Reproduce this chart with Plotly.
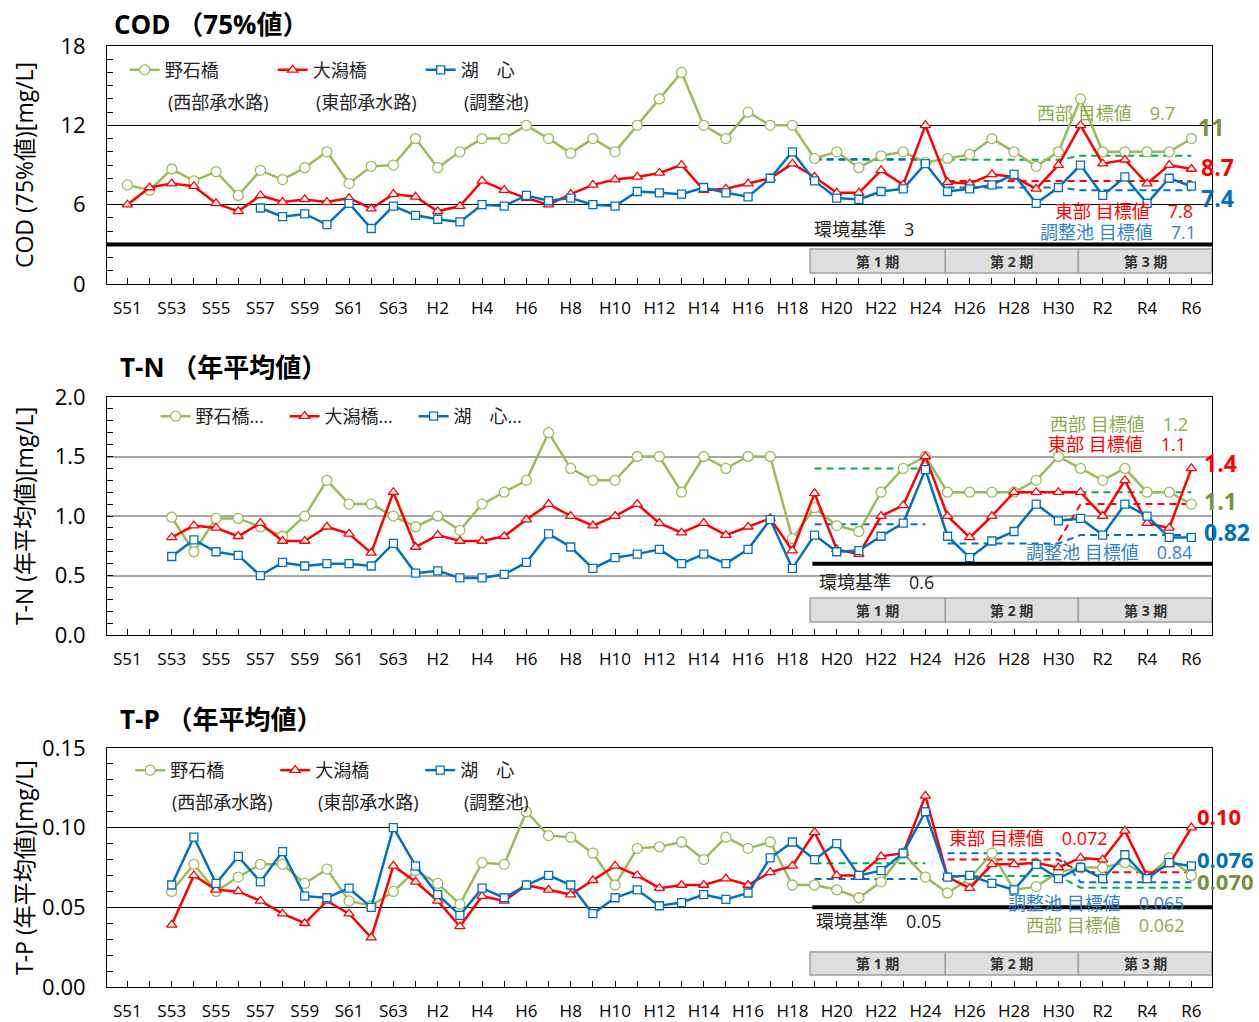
import plotly.graph_objects as go
from plotly.subplots import make_subplots

# ---------------- data ----------------
year_labels = (["S%d" % y for y in range(51, 64)] +
               ["H%d" % y for y in range(1, 31)] +
               ["R%d" % y for y in range(1, 7)])
x_idx = list(range(len(year_labels)))
tick_vals = x_idx[::2]
tick_text = year_labels[::2]

N = None
# COD (75%値)
cod_west = [7.5, 7.1, 8.7, 7.8, 8.5, 6.7, 8.6, 7.9, 8.8, 10, 7.6, 8.9, 9.0, 11, 8.8, 10, 11, 11, 12, 11,
            9.9, 11, 10, 12, 14, 16, 12, 11, 13, 12, 12, 9.5, 10, 8.8, 9.7, 10, 9.2, 9.5, 9.8, 11,
            10, 8.9, 10, 14, 10, 10, 10, 10, 11]
cod_east = [6.0, 7.3, 7.6, 7.4, 6.1, 5.5, 6.7, 6.2, 6.4, 6.2, 6.5, 5.7, 6.8, 6.6, 5.5, 5.9, 7.8, 7.1, 6.5, 6.0,
            6.8, 7.5, 7.9, 8.1, 8.4, 9.0, 7.1, 7.2, 7.6, 8.0, 9.1, 8.1, 6.9, 6.9, 8.6, 7.5, 12, 7.7, 7.6, 8.3,
            8.1, 7.2, 9.0, 12, 9.1, 9.4, 7.6, 9.0, 8.7]
cod_lake = [N, N, N, N, N, N, 5.75, 5.1, 5.3, 4.5, 6.1, 4.2, 5.9, 5.2, 4.9, 4.7, 6.0, 5.9, 6.7, 6.3,
            6.5, 6.0, 5.9, 7.0, 6.9, 6.8, 7.3, 6.9, 6.6, 8.0, 10, 7.8, 6.5, 6.4, 7.0, 7.2, 9.1, 7.0, 7.2, 7.5,
            8.3, 6.1, 7.3, 9.0, 6.7, 8.1, 6.1, 8.0, 7.4]
# T-N (年平均値)
tn_west = [N, N, 0.99, 0.70, 0.98, 0.98, 0.91, 0.83, 1.0, 1.30, 1.10, 1.10, 1.0, 0.91, 1.0, 0.88, 1.10, 1.20, 1.30, 1.70,
           1.40, 1.30, 1.30, 1.50, 1.50, 1.20, 1.50, 1.40, 1.50, 1.50, 0.81, 1.07, 0.92, 0.87, 1.2, 1.4, 1.5, 1.2, 1.2, 1.2,
           1.2, 1.3, 1.5, 1.4, 1.3, 1.4, 1.2, 1.2, 1.1]
tn_east = [N, N, 0.82, 0.92, 0.90, 0.83, 0.94, 0.79, 0.79, 0.91, 0.85, 0.69, 1.20, 0.74, 0.84, 0.79, 0.79, 0.83, 0.97, 1.10,
           1.0, 0.92, 1.0, 1.10, 0.94, 0.86, 0.94, 0.84, 0.91, 0.98, 0.71, 1.19, 0.72, 0.68, 1.0, 1.09, 1.5, 1.0, 0.82, 1.0,
           1.2, 1.2, 1.2, 1.2, 1.0, 1.3, 0.94, 0.90, 1.4]
tn_lake = [N, N, 0.66, 0.80, 0.70, 0.67, 0.50, 0.61, 0.58, 0.60, 0.60, 0.58, 0.77, 0.52, 0.54, 0.48, 0.48, 0.51, 0.61, 0.85,
           0.74, 0.56, 0.65, 0.68, 0.72, 0.60, 0.68, 0.60, 0.72, 0.97, 0.56, 0.84, 0.70, 0.71, 0.83, 0.94, 1.39, 0.83, 0.65, 0.79,
           0.87, 1.10, 0.96, 0.98, 0.84, 1.10, 1.0, 0.82, 0.82]
# T-P (年平均値)
tp_west = [N, N, 0.060, 0.077, 0.060, 0.069, 0.077, 0.077, 0.065, 0.074, 0.054, 0.051, 0.060, 0.073, 0.065, 0.052, 0.078, 0.077, 0.110, 0.095,
           0.094, 0.084, 0.064, 0.087, 0.088, 0.091, 0.080, 0.094, 0.087, 0.091, 0.064, 0.064, 0.061, 0.056, 0.066, 0.084, 0.069, 0.059, 0.068, 0.084,
           0.061, 0.063, 0.072, 0.075, 0.075, 0.078, 0.069, 0.081, 0.070]
tp_east = [N, N, 0.039, 0.070, 0.061, 0.060, 0.054, 0.046, 0.040, 0.054, 0.046, 0.031, 0.076, 0.066, 0.054, 0.038, 0.057, 0.054, 0.064, 0.061,
           0.058, 0.067, 0.076, 0.070, 0.062, 0.064, 0.064, 0.068, 0.064, 0.072, 0.076, 0.097, 0.070, 0.070, 0.082, 0.084, 0.120, 0.069, 0.062, 0.077,
           0.077, 0.078, 0.075, 0.081, 0.080, 0.098, 0.070, 0.077, 0.100]
tp_lake = [N, N, 0.064, 0.094, 0.065, 0.082, 0.066, 0.085, 0.057, 0.056, 0.062, 0.050, 0.100, 0.076, 0.058, 0.045, 0.062, 0.056, 0.064, 0.070,
           0.064, 0.046, 0.056, 0.061, 0.051, 0.053, 0.058, 0.055, 0.059, 0.081, 0.091, 0.080, 0.090, 0.070, 0.073, 0.084, 0.110, 0.069, 0.070, 0.065,
           0.061, 0.077, 0.068, 0.075, 0.068, 0.083, 0.068, 0.078, 0.076]

# target values per phase (第1期 H19-H24, 第2期 H25-H30, 第3期 R1-R6)
phase_ranges = [(31, 36), (37, 42), (43, 48)]
phase_names = ["第 1 期", "第 2 期", "第 3 期"]
cod_tgt = {"west": [9.45, 9.4, 9.7], "east": [N, 7.8, 7.8], "lake": [9.4, 7.3, 7.1]}
tn_tgt = {"west": [1.40, 1.2, 1.2], "east": [N, N, 1.1], "lake": [0.93, 0.77, 0.84]}
tp_tgt = {"west": [0.0776, 0.0697, 0.0623], "east": [N, 0.080, 0.072], "lake": [0.0678, 0.0839, 0.0657]}
tn_east_link_h30 = 0.79   # end point of the east target line at H30 (T-N)
env_std = [3, 0.6, 0.05]
env_start = [None, 31, 31]

# ---------------- style ----------------
GREEN = "#9BBB59"
GREEN_D = "#00B050"
GREEN_T = "#8EA94E"
GREEN_B = "#76923C"
RED = "#FF0000"
BLUE = "#0070C0"
BLUE_T = "#2F84D0"
FONT = "Open Sans, Noto Sans CJK JP, sans-serif"
XR = [-0.92, 48.93]
phase_edges = [30.8, 36.9, 42.9, 48.93]

fig = make_subplots(rows=3, cols=1)
doms = [(0.747, 1.0), (0.374, 0.627), (0.0, 0.254)]


def tgt_series(vals, phases):
    ys = [None] * len(x_idx)
    for v, ph in zip(vals, phases):
        if v is None:
            continue
        for i in range(ph[0], ph[1] + 1):
            ys[i] = v
    return ys


panels = [
    (cod_west, cod_east, cod_lake, cod_tgt),
    (tn_west, tn_east, tn_lake, tn_tgt),
    (tp_west, tp_east, tp_lake, tp_tgt),
]
legend_names = [["野石橋", "大潟橋", "湖　心"], ["野石橋...", "大潟橋...", "湖　心..."], ["野石橋", "大潟橋", "湖　心"]]
legend_ids = ["legend", "legend2", "legend3"]

for p, (w, e, l, tg) in enumerate(panels):
    row = p + 1
    # target dashed lines: phase 1 separate, phases 2-3 connected
    for key, col in (("west", GREEN_D), ("east", RED), ("lake", BLUE)):
        vals = tg[key]
        for grp in ([0], [1, 2]):
            ys = tgt_series([vals[g] for g in grp], [phase_ranges[g] for g in grp])
            if p == 1 and key == "east" and grp == [1, 2]:
                ys[phase_ranges[1][1]] = tn_east_link_h30
            if all(v is None for v in ys):
                continue
            fig.add_trace(go.Scatter(x=x_idx, y=ys, mode="lines", connectgaps=False,
                                     line=dict(color=col, width=2, dash="7px,5px"),
                                     showlegend=False, hoverinfo="skip"), row=row, col=1)
    names = legend_names[p]
    fig.add_trace(go.Scatter(x=x_idx, y=w, mode="lines+markers", name=names[0],
                             line=dict(color=GREEN, width=2.5),
                             marker=dict(symbol="circle", size=10, color="white", line=dict(color=GREEN, width=1.3)),
                             legend=legend_ids[p]), row=row, col=1)
    fig.add_trace(go.Scatter(x=x_idx, y=e, mode="lines+markers", name=names[1],
                             line=dict(color=RED, width=2.5),
                             marker=dict(symbol="triangle-up", size=9, color="white", line=dict(color=RED, width=1.3)),
                             legend=legend_ids[p]), row=row, col=1)
    fig.add_trace(go.Scatter(x=x_idx, y=l, mode="lines+markers", name=names[2],
                             line=dict(color=BLUE, width=2.5),
                             marker=dict(symbol="square", size=8, color="white", line=dict(color=BLUE, width=1.3)),
                             legend=legend_ids[p]), row=row, col=1)

# axes
yconf = [
    dict(range=[0, 18], tickvals=[0, 6, 12, 18], minor=dict(dtick=1, ticks="inside", ticklen=6, tickcolor="black"),
         gridcolor="black", gridwidth=1),
    dict(range=[0, 2.0], tickvals=[0, 0.5, 1.0, 1.5, 2.0], tickformat=".1f",
         minor=dict(dtick=0.1, ticks="inside", ticklen=6, tickcolor="black"), gridcolor="#A6A6A6", gridwidth=1.5),
    dict(range=[0, 0.15], tickvals=[0, 0.05, 0.10, 0.15], tickformat=".2f",
         minor=dict(dtick=0.01, ticks="inside", ticklen=6, tickcolor="black"), gridcolor="black", gridwidth=1),
]
for p in range(3):
    fig.update_xaxes(range=XR, tickmode="array", tickvals=tick_vals, ticktext=tick_text,
                     ticks="inside", ticklen=6, tickcolor="black",
                     minor=dict(tickmode="linear", tick0=0, dtick=1, ticks="inside", ticklen=6, tickcolor="black"),
                     showgrid=False, zeroline=False, showline=True, mirror=True, linecolor="black", linewidth=1,
                     tickfont=dict(size=17, color="black", family=FONT), ticklabelstandoff=9, automargin=False,
                     domain=[0, 1], row=p + 1, col=1)
    fig.update_yaxes(**yconf[p], showgrid=True, zeroline=False, ticks="inside", ticklen=6, tickcolor="black",
                     showline=True, mirror=True, linecolor="black", linewidth=1,
                     tickfont=dict(size=22, color="black", family=FONT), ticklabelstandoff=16, automargin=False,
                     domain=list(doms[p]), row=p + 1, col=1)

shapes = []
annotations = []
for p in range(3):
    xr = "x" if p == 0 else "x%d" % (p + 1)
    yr = "y" if p == 0 else "y%d" % (p + 1)
    # environmental standard thick line
    if env_start[p] is None:
        shapes.append(dict(type="line", xref=xr + " domain", yref=yr, x0=0, x1=1, y0=env_std[p], y1=env_std[p],
                           line=dict(color="black", width=4)))
    else:
        shapes.append(dict(type="line", xref=xr, yref=yr, x0=env_start[p] - 0.1, x1=XR[1], y0=env_std[p], y1=env_std[p],
                           line=dict(color="black", width=4)))
    # phase boxes
    ylo, yhi = [(0.83, 2.65), (0.109, 0.311), (0.0075, 0.022)][p]
    for k in range(3):
        shapes.append(dict(type="rect", xref=xr, yref=yr, x0=phase_edges[k], x1=phase_edges[k + 1], y0=ylo, y1=yhi,
                           fillcolor="#DEDEDE", line=dict(color="#A0A0A0", width=1.5)))
        annotations.append(dict(xref=xr, yref=yr, x=(phase_edges[k] + phase_edges[k + 1]) / 2, y=(ylo + yhi) / 2,
                                text="<b>%s</b>" % phase_names[k], showarrow=False,
                                font=dict(size=14, color="#333333", family=FONT)))


def ann(p, x, y, text, color, size=18, xanchor="left", bold=False):
    xr = "x" if p == 0 else "x%d" % (p + 1)
    yr = "y" if p == 0 else "y%d" % (p + 1)
    t = "<b>%s</b>" % text if bold else text
    annotations.append(dict(xref=xr, yref=yr, x=x, y=y, text=t, showarrow=False, xanchor=xanchor, yanchor="middle",
                            font=dict(size=size, color=color, family=FONT)))


# panel 1
ann(0, 1.72, 13.77, "(西部承水路)", "#222222")
ann(0, 8.41, 13.77, "(東部承水路)", "#222222")
ann(0, 15.1, 13.77, "(調整池)", "#222222")
ann(0, 47.37, 12.93, "西部 目標値　9.7", GREEN_T, xanchor="right")
ann(0, 48.2, 11.87, "11", GREEN_B, size=23, bold=True)
ann(0, 48.36, 8.85, "8.7", RED, size=23, bold=True)
ann(0, 48.36, 6.5, "7.4", BLUE, size=23, bold=True)
ann(0, 48.18, 5.52, "東部 目標値　7.8", RED, xanchor="right")
ann(0, 48.32, 3.93, "調整池 目標値　7.1", BLUE_T, xanchor="right")
ann(0, 30.87, 4.16, "環境基準　3", "#222222")
# panel 2
ann(1, 47.95, 1.773, "西部 目標値　1.2", GREEN_T, xanchor="right")
ann(1, 47.86, 1.605, "東部 目標値　1.1", RED, xanchor="right")
ann(1, 48.5, 1.445, "1.4", RED, size=23, bold=True)
ann(1, 48.5, 1.126, "1.1", GREEN_B, size=23, bold=True)
ann(1, 48.5, 0.866, "0.82", BLUE, size=23, bold=True)
ann(1, 48.14, 0.697, "調整池 目標値　0.84", BLUE_T, xanchor="right")
ann(1, 31.1, 0.445, "環境基準　0.6", "#222222")
# panel 3
ann(2, 1.94, 0.1161, "(西部承水路)", "#222222")
ann(2, 8.5, 0.1161, "(東部承水路)", "#222222")
ann(2, 15.1, 0.1161, "(調整池)", "#222222")
ann(2, 36.97, 0.0935, "東部 目標値　0.072", RED)
ann(2, 48.18, 0.1073, "0.10", RED, size=22, bold=True)
ann(2, 48.18, 0.0803, "0.076", BLUE, size=22, bold=True)
ann(2, 48.18, 0.0665, "0.070", GREEN_B, size=22, bold=True)
ann(2, 47.82, 0.0527, "調整池 目標値　0.065", BLUE_T, xanchor="right")
ann(2, 47.82, 0.0389, "西部 目標値　0.062", GREEN_T, xanchor="right")
ann(2, 30.96, 0.0414, "環境基準　0.05", "#222222")

# titles & y-axis titles
for text, xx, yy in (("COD （75%値）", 0.0045, 1.0234), ("T-N （年平均値）", 0.010, 0.6589), ("T-P （年平均値）", 0.010, 0.2848)):
    annotations.append(dict(xref="paper", yref="paper", x=xx, y=yy, text="<b>%s</b>" % text, showarrow=False,
                            xanchor="left", yanchor="middle", font=dict(size=26, color="black", family=FONT)))
for text, yy in (("COD (75%値)[mg/L]", 0.8735), ("T-N (年平均値)[mg/L]", 0.5005), ("T-P (年平均値)[mg/L]", 0.1265)):
    annotations.append(dict(xref="paper", yref="paper", x=-0.0751, y=yy, text=text, showarrow=False, textangle=-90,
                            xanchor="center", yanchor="middle", font=dict(size=23, color="black", family=FONT)))

leg_common = dict(orientation="h", xanchor="left", yanchor="top", bgcolor="rgba(0,0,0,0)",
                  font=dict(size=18, color="#222222", family=FONT), entrywidthmode="pixels", itemwidth=30,
                  itemclick=False, itemdoubleclick=False)
fig.update_layout(
    width=1259, height=1022,
    margin=dict(l=107, r=47, t=46, b=35, autoexpand=False),
    paper_bgcolor="white", plot_bgcolor="white",
    font=dict(family=FONT, color="black"),
    shapes=shapes, annotations=annotations,
    legend=dict(**leg_common, x=0.016, y=0.994, entrywidth=103),
    legend2=dict(**leg_common, x=0.044, y=0.626, entrywidth=84),
    legend3=dict(**leg_common, x=0.021, y=0.2498, entrywidth=100),
    showlegend=True,
)

fig.write_html("out.html", config={"displayModeBar": False},
               post_script="document.body.style.margin='0';")
